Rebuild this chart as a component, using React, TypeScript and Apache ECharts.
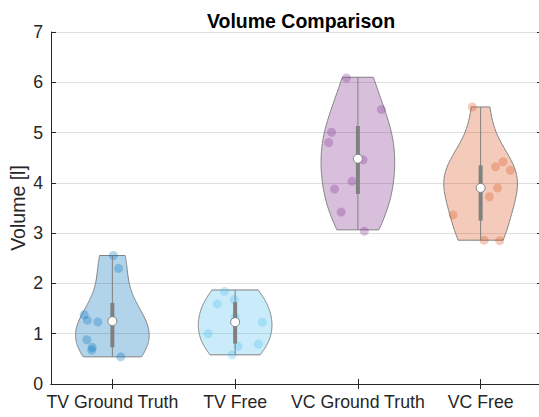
import React, { useEffect, useRef } from "react";
import * as echarts from "echarts";

const categories = ["TV Ground Truth", "TV Free", "VC Ground Truth", "VC Free"];
const seriesColors = ["#0072BD", "#4DBEEE", "#7E2F8E", "#D95319"];

const tvGroundTruth = [2.555, 2.32, 1.377, 1.27, 1.25, 0.88, 0.75, 0.675, 0.54];
const tvGroundTruthJitter = [0.008, 0.049, -0.23, -0.204, -0.119, -0.208, -0.165, -0.168, 0.068];

const tvFree = [1.87, 1.675, 1.61, 1.33, 1.23, 1.0, 0.82, 0.75, 0.58];
const tvFreeJitter = [-0.087, -0.006, -0.147, 0.0, 0.222, -0.22, 0.187, 0.022, -0.024];

const vcGroundTruth = [6.1, 5.46, 5.02, 4.82, 4.48, 4.05, 3.9, 3.42, 3.066];
const vcGroundTruthJitter = [-0.093, 0.192, -0.215, -0.239, 0.041, -0.049, -0.191, -0.136, 0.051];

const vcFree = [5.51, 4.42, 4.32, 4.25, 3.9, 3.74, 3.38, 2.86, 2.86];
const vcFreeJitter = [-0.068, 0.182, 0.122, 0.242, 0.138, 0.071, -0.225, 0.028, 0.155];

const yTicks = [0, 1, 2, 3, 4, 5, 6, 7];

const groups = [tvGroundTruth, tvFree, vcGroundTruth, vcFree];
const jitters = [tvGroundTruthJitter, tvFreeJitter, vcGroundTruthJitter, vcFreeJitter];

function sortedCopy(a: number[]) {
  return a.slice().sort((x, y) => x - y);
}
function quantile(data: number[], p: number) {
  const s = sortedCopy(data);
  const n = s.length;
  const pos = n * p + 0.5;
  if (pos < 1) return s[0];
  if (pos >= n) return s[n - 1];
  const lo = Math.floor(pos);
  return s[lo - 1] + (pos - lo) * (s[lo] - s[lo - 1]);
}
function bandwidth(data: number[]) {
  const n = data.length;
  const med = quantile(data, 0.5);
  const mad = quantile(data.map((v) => Math.abs(v - med)), 0.5);
  let sig = mad / 0.6745;
  if (sig <= 0) sig = Math.max(...data) - Math.min(...data);
  return sig * Math.pow(4 / (3 * n), 0.2);
}
function kde(data: number[], x: number, bw: number) {
  let s = 0;
  for (const v of data) {
    const u = (x - v) / bw;
    s += Math.exp(-0.5 * u * u);
  }
  return s;
}

const EDGE = "#808080";
const FONT = "'Liberation Sans', Arial, Helvetica, sans-serif";
const TXT = "#262626";

export default function App() {
  const ref = useRef<HTMLDivElement>(null);
  useEffect(() => {
    if (!ref.current) return;
    const chart = echarts.init(ref.current, undefined, { renderer: "svg" });

    const violinRender = (params: any, api: any) => {
      const idx = api.value(0);
      const data = groups[idx];
      const bw = bandwidth(data);
      const mn = Math.min(...data);
      const mx = Math.max(...data);
      const N = 100;
      const vals: number[] = [];
      const dens: number[] = [];
      for (let i = 0; i < N; i++) {
        const v = mn + ((mx - mn) * i) / (N - 1);
        vals.push(v);
        dens.push(kde(data, v, bw));
      }
      const dmax = Math.max(...dens);
      const catW = api.size([1, 0])[0];
      const half = 0.3 * catW;
      const right: number[][] = [];
      const left: number[][] = [];
      for (let i = 0; i < N; i++) {
        const c = api.coord([idx, vals[i]]);
        const w = (dens[i] / dmax) * half;
        right.push([c[0] + w, c[1]]);
        left.push([c[0] - w, c[1]]);
      }
      const pts = right.concat(left.reverse());
      return {
        type: "polygon",
        shape: { points: pts },
        style: {
          fill: seriesColors[idx],
          opacity: 1,
          fillOpacity: 0.3,
          stroke: EDGE,
          lineWidth: 1,
          strokeOpacity: 1,
        } as any,
      };
    };

    const pointRender = (params: any, api: any) => {
      const idx = api.value(0);
      const c = api.coord([idx, api.value(1)]);
      const catW = api.size([1, 0])[0];
      return {
        type: "circle",
        shape: { cx: c[0] + api.value(2) * catW, cy: c[1], r: 4.5 },
        style: { fill: seriesColors[idx], opacity: 0.3 },
      };
    };

    const boxRender = (params: any, api: any) => {
      const idx = api.value(0);
      const data = groups[idx];
      const q1 = quantile(data, 0.25);
      const med = quantile(data, 0.5);
      const q3 = quantile(data, 0.75);
      const iqr = q3 - q1;
      let lo = q1 - 1.5 * iqr;
      lo = Math.max(lo, Math.min(...data.filter((d) => d >= lo)));
      let hi = q3 + 1.5 * iqr;
      hi = Math.min(hi, Math.max(...data.filter((d) => d <= hi)));
      const pLo = api.coord([idx, lo]);
      const pHi = api.coord([idx, hi]);
      const pQ1 = api.coord([idx, q1]);
      const pQ3 = api.coord([idx, q3]);
      const pM = api.coord([idx, med]);
      return {
        type: "group",
        children: [
          {
            type: "line",
            shape: { x1: pLo[0], y1: pLo[1], x2: pHi[0], y2: pHi[1] },
            style: { stroke: EDGE, lineWidth: 1 },
          },
          {
            type: "rect",
            shape: { x: pQ3[0] - 2, y: pQ3[1], width: 4, height: pQ1[1] - pQ3[1] },
            style: { fill: EDGE },
          },
          {
            type: "circle",
            shape: { cx: pM[0], cy: pM[1], r: 4.5 },
            style: { fill: "#ffffff", stroke: EDGE, lineWidth: 1 },
          },
        ],
      };
    };

    const pointData: number[][] = [];
    groups.forEach((g, i) => g.forEach((v, j) => pointData.push([i, v, jitters[i][j]])));

    const xCommon = {
      type: "category",
      data: categories,
      boundaryGap: true,
      axisLine: { show: true, lineStyle: { color: TXT, width: 1 } },
      axisTick: {
        show: true,
        interval: 0,
        alignWithLabel: true,
        inside: true,
        length: 5,
        lineStyle: { color: TXT },
      },
      splitLine: { show: false },
    };

    chart.setOption({
      animation: false,
      backgroundColor: "#ffffff",
      title: {
        text: "Volume Comparison",
        left: 296,
        top: 6,
        textAlign: "center",
        textStyle: { fontFamily: FONT, fontWeight: "bold", fontSize: 19.5, color: "#000000" },
      },
      grid: {
        left: 51,
        top: 32,
        width: 491,
        height: 352,
        containLabel: false,
        outerBoundsMode: "none",
      },
      xAxis: [
        {
          ...xCommon,
          position: "bottom",
          axisLabel: { color: TXT, fontFamily: FONT, fontSize: 17.7, margin: 9, interval: 0 },
        },
        {
          ...xCommon,
          position: "top",
          axisLabel: { show: false },
        },
      ],
      yAxis: [
        {
          type: "value",
          min: yTicks[0],
          max: yTicks[yTicks.length - 1],
          interval: 1,
          name: "Volume [l]",
          nameLocation: "middle",
          nameRotate: 90,
          nameGap: 23,
          nameMoveOverlap: false,
          nameTextStyle: { fontFamily: FONT, fontSize: 19.5, color: TXT },
          axisLine: { show: true, lineStyle: { color: TXT, width: 1 } },
          axisTick: { show: true, inside: true, length: 5, lineStyle: { color: TXT } },
          axisLabel: { color: TXT, fontFamily: FONT, fontSize: 17.7, margin: 8 },
          splitLine: { show: true, lineStyle: { color: "#dfdfdf", width: 1 } },
        },
        {
          type: "value",
          position: "right",
          min: yTicks[0],
          max: yTicks[yTicks.length - 1],
          interval: 1,
          axisLine: { show: true, lineStyle: { color: TXT, width: 1 } },
          axisTick: { show: true, inside: true, length: 5, lineStyle: { color: TXT } },
          axisLabel: { show: false },
          splitLine: { show: false },
        },
      ],
      series: [
        {
          type: "custom",
          renderItem: violinRender,
          data: categories.map((_, i) => [i]),
          encode: { x: 0 },
          clip: false,
        },
        {
          type: "custom",
          renderItem: pointRender,
          data: pointData,
          encode: { x: 0, y: 1 },
          clip: false,
        },
        {
          type: "custom",
          renderItem: boxRender,
          data: categories.map((_, i) => [i]),
          encode: { x: 0 },
          clip: false,
        },
      ],
    });
    return () => chart.dispose();
  }, []);
  return (
    <div
      ref={ref}
      style={{ position: "fixed", left: 0, top: 0, width: 539, height: 417, background: "#fff" }}
    />
  );
}
